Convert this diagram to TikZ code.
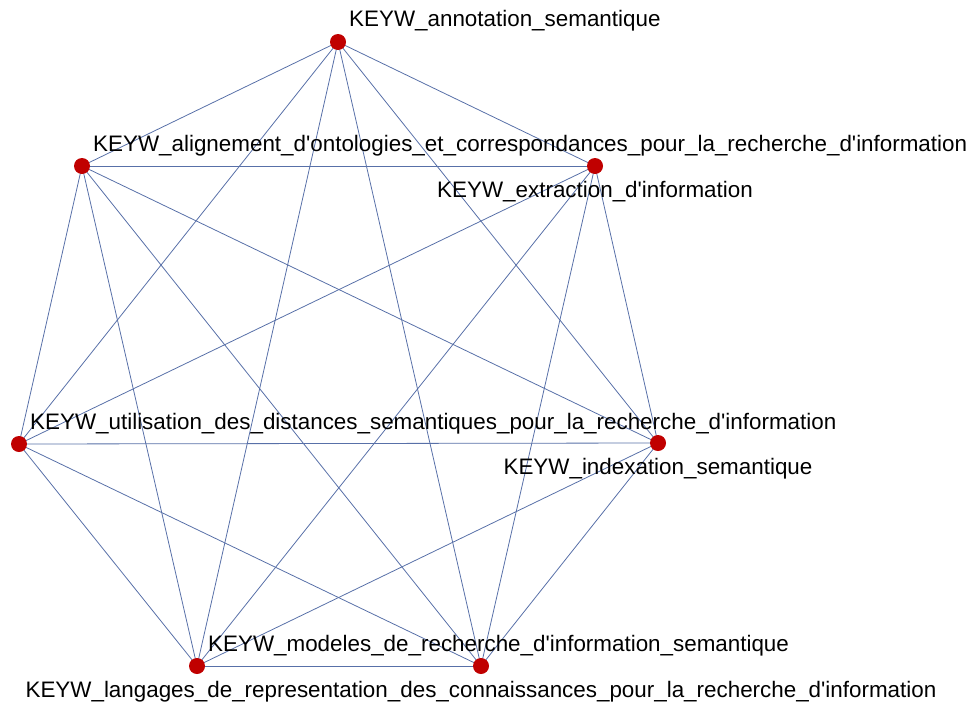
\documentclass[tikz,border=0pt]{standalone}
\usepackage{fontspec}
\setmainfont{Liberation Sans}[Ligatures=TeXOff]
\definecolor{vertexred}{RGB}{192,0,0}
\definecolor{edgeblue}{RGB}{88,112,168}
\pgfdeclarelayer{edges}
\pgfsetlayers{edges,main}
\begin{document}
\begin{tikzpicture}[x=1pt,y=-1pt,
  vertex/.style={circle,fill=vertexred,draw=none,minimum size=16pt,inner sep=0pt},
  link/.style={draw=edgeblue,line width=0.8pt},
  lblabove/.style={anchor=base west,inner sep=0pt,font=\fontsize{22.4}{26}\selectfont},
  lblbelow/.style={anchor=base,inner sep=0pt,font=\fontsize{22.4}{26}\selectfont}]
\useasboundingbox (0,0) rectangle (971,704);
% vertices
\node[vertex] (A) at (338,42) {};
\node[vertex] (B) at (82,166) {};
\node[vertex] (C) at (595,166) {};
\node[vertex] (D) at (19,444) {};
\node[vertex] (E) at (658,443) {};
\node[vertex] (F) at (197,666) {};
\node[vertex] (G) at (481,666) {};
% edges: every pair of vertices is linked
\begin{pgfonlayer}{edges}
\foreach \u/\v in {A/B,A/C,A/D,A/E,A/F,A/G,
                   B/C,B/D,B/E,B/F,B/G,
                   C/D,C/E,C/F,C/G,
                   D/E,D/F,D/G,
                   E/F,E/G,
                   F/G}
  \draw[link] (\u.center) -- (\v.center);
\end{pgfonlayer}
% labels
\node[lblabove] (tA) at (349,27) {KEYW\_annotation\_semantique};
\node[lblabove] (tB) at (93,151) {KEYW\_alignement\_d'ontologies\_et\_correspondances\_pour\_la\_recherche\_d'information};
\node[lblbelow] (tC) at (595,197) {KEYW\_extraction\_d'information};
\node[lblabove] (tD) at (30,429) {KEYW\_utilisation\_des\_distances\_semantiques\_pour\_la\_recherche\_d'information};
\node[lblbelow] (tE) at (658,474) {KEYW\_indexation\_semantique};
\node[lblabove] (tF) at (208,651) {KEYW\_modeles\_de\_recherche\_d'information\_semantique};
\node[lblbelow] (tG) at (481,697) {KEYW\_langages\_de\_representation\_des\_connaissances\_pour\_la\_recherche\_d'information};
\end{tikzpicture}
\end{document}
